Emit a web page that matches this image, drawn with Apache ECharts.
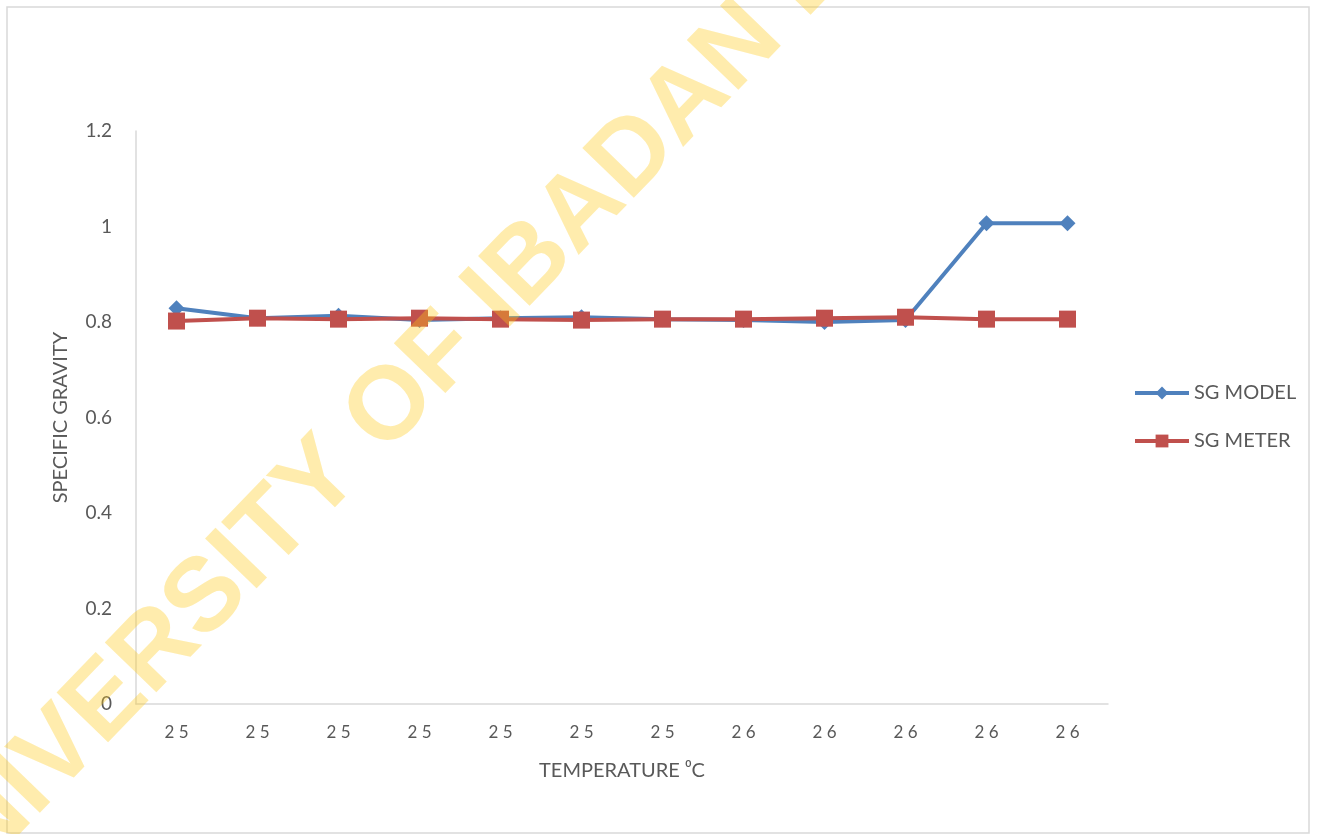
<!DOCTYPE html>
<html>
<head>
<meta charset="utf-8">
<script src="https://cdn.jsdelivr.net/npm/echarts@6/dist/echarts.min.js"></script>
<style>
  html, body { margin: 0; padding: 0; background: #fff; }
  #main { width: 1318px; height: 834px; }
</style>
</head>
<body>
<div id="main"></div>
<script>
// temperature readings (x categories)
const temps = ['25', '25', '25', '25', '25', '25', '25', '26', '26', '26', '26', '26']
// specific gravity values
const sgModel = [0.829, 0.808, 0.813, 0.804, 0.808, 0.810, 0.806, 0.804, 0.800, 0.804, 1.007, 1.007]
const sgMeter = [0.802, 0.808, 0.806, 0.808, 0.806, 0.804, 0.806, 0.806, 0.808, 0.810, 0.806, 0.806]

const font = 'Lato, "Open Sans", sans-serif'
const textColor = '#595959'

const myChart = echarts.init(document.getElementById('main'))

const option = {
  animation: false,
  backgroundColor: '#fff',
  textStyle: { fontFamily: font },
  grid: {
    left: 136,
    right: 210,
    top: 131,
    bottom: 130
  },
  legend: {
    orient: 'vertical',
    left: 1128,
    top: 378,
    itemWidth: 54,
    itemHeight: 16,
    itemGap: 28,
    textStyle: { color: textColor, fontSize: 20, fontFamily: font },
    data: [
      { name: 'SG MODEL', lineStyle: { width: 4 } },
      { name: 'SG METER', lineStyle: { width: 4 } }
    ]
  },
  xAxis: {
    type: 'category',
    data: temps,
    boundaryGap: true,
    name: 'TEMPERATURE \u2070C',
    nameLocation: 'middle',
    nameGap: 57,
    nameTextStyle: { color: textColor, fontSize: 20, fontFamily: font },
    axisLine: { lineStyle: { color: '#d9d9d9', width: 1.5 } },
    axisTick: { show: false },
    axisLabel: {
      color: textColor,
      fontSize: 17,
      margin: 20,
      formatter: v => v.split('').join(' ')
    }
  },
  yAxis: {
    type: 'value',
    min: 0,
    max: 1.2,
    interval: 0.2,
    name: 'SPECIFIC GRAVITY',
    nameLocation: 'middle',
    nameGap: 65,
    nameTextStyle: { color: textColor, fontSize: 20, fontFamily: font },
    axisLine: { show: true, lineStyle: { color: '#d9d9d9', width: 1.5 } },
    axisTick: { show: false },
    splitLine: { show: false },
    axisLabel: { color: textColor, fontSize: 19, margin: 24 }
  },
  series: [
    {
      name: 'SG MODEL',
      type: 'line',
      data: sgModel,
      symbol: 'diamond',
      symbolSize: 16,
      itemStyle: { color: '#4f81bd' },
      lineStyle: { color: '#4f81bd', width: 4 }
    },
    {
      name: 'SG METER',
      type: 'line',
      data: sgMeter,
      symbol: 'rect',
      symbolSize: 17,
      itemStyle: { color: '#c0504d' },
      lineStyle: { color: '#c0504d', width: 4 }
    }
  ],
  graphic: [
    {
      type: 'rect',
      z: 0,
      shape: { x: 7, y: 7, width: 1302, height: 826 },
      style: { fill: 'none', stroke: '#d9d9d9', lineWidth: 1.5 }
    },
    {
      // watermark across the chart
      type: 'text',
      z: 100,
      x: -90,
      y: 906,
      rotation: 46 * Math.PI / 180,
      silent: true,
      style: {
        text: 'UNIVERSITY OF IBADAN LIBRARY',
        font: 'bold 104px "Liberation Sans", Arial, sans-serif',
        fill: 'rgba(255,200,20,0.35)',
        align: 'left',
        verticalAlign: 'middle'
      }
    }
  ]
}

myChart.setOption(option)
</script>
</body>
</html>
